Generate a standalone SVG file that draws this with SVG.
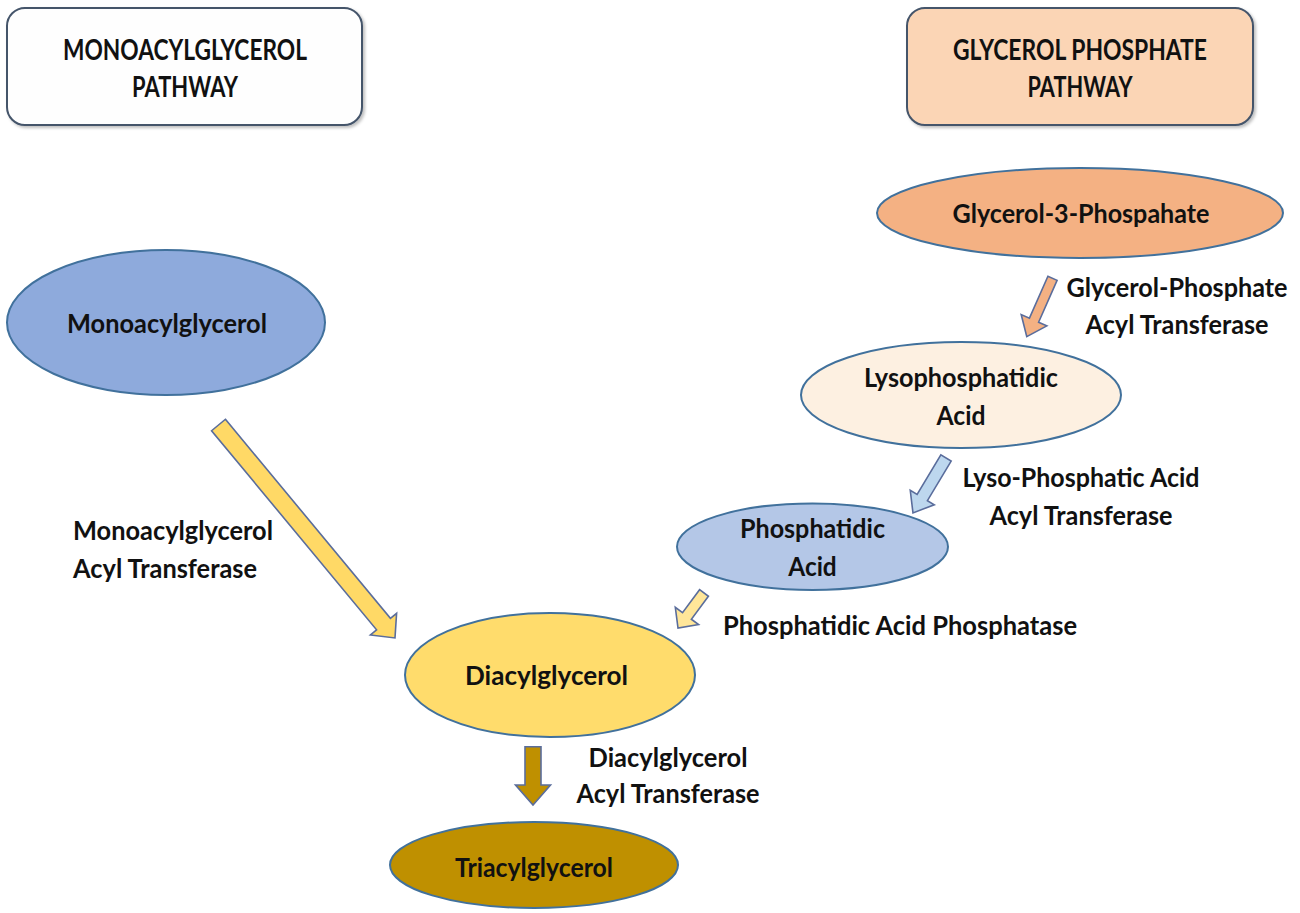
<svg xmlns="http://www.w3.org/2000/svg" width="1300" height="913" viewBox="0 0 1300 913">
  <defs>
    <filter id="sh" x="-5%" y="-5%" width="115%" height="120%">
      <feDropShadow dx="2" dy="2" stdDeviation="1.5" flood-color="#000" flood-opacity="0.25"/>
    </filter>
    <style>
      .box { stroke: #44546a; stroke-width: 2; }
      .node { stroke: #41719c; stroke-width: 2; }
      .arr { stroke: #5a6d9c; stroke-width: 1.6; stroke-linejoin: miter; }
      text { font-family: Lato, "Open Sans", "Liberation Sans", sans-serif; font-weight: bold; fill: #111; }
      .hd { font-size: 28px; text-anchor: middle; }
      .nt { font-size: 26px; text-anchor: middle; }
      .lb { font-size: 26px; text-anchor: middle; }
      .lbl { font-size: 26px; text-anchor: start; }
    </style>
  </defs>
  <rect width="1300" height="913" fill="#ffffff"/>

  <g id="header-mono">
    <rect class="box" x="7" y="8" width="355" height="117" rx="18" fill="#fefefe" filter="url(#sh)"/>
    <text class="hd" x="185" y="60" textLength="244" lengthAdjust="spacingAndGlyphs">MONOACYLGLYCEROL</text>
    <text class="hd" x="185" y="97" textLength="106" lengthAdjust="spacingAndGlyphs">PATHWAY</text>
  </g>

  <g id="header-gp">
    <rect class="box" x="907" y="8" width="346" height="117" rx="18" fill="#fbd5b5" filter="url(#sh)"/>
    <text class="hd" x="1080" y="60" textLength="254" lengthAdjust="spacingAndGlyphs">GLYCEROL PHOSPHATE</text>
    <text class="hd" x="1080" y="97" textLength="105" lengthAdjust="spacingAndGlyphs">PATHWAY</text>
  </g>

  <g id="connectors">
    <path id="arrow-gpat" class="arr" fill="#f4b183" transform="translate(1052.5,278.3) rotate(113.8)" d="M0,-5 H45.8 V-14 L63.8,0 L45.8,14 V5 H0 Z"/>
    <path id="arrow-lpaat" class="arr" fill="#bdd7ee" transform="translate(946,458) rotate(121)" d="M0,-6 H46.1 V-14 L64.1,0 L46.1,14 V6 H0 Z"/>
    <path id="arrow-pap" class="arr" fill="#ffe699" transform="translate(704,593) rotate(126.6)" d="M0,-5.5 H28.6 V-14.5 L43.6,0 L28.6,14.5 V5.5 H0 Z"/>
    <path id="arrow-dgat" class="arr" fill="#bf9000" transform="translate(533,746.7) rotate(90)" d="M0,-8 H38.3 V-17.5 L58.3,0 L38.3,17.5 V8 H0 Z"/>
    <path id="arrow-mgat" class="arr" fill="#ffd966" transform="translate(218.5,425) rotate(50.35)" d="M0,-9 H258.6 V-17 L276.6,0 L258.6,17 V9 H0 Z"/>
  </g>

  <g id="connector-labels">
    <text class="lb" x="1177" y="297" textLength="221" lengthAdjust="spacingAndGlyphs">Glycerol-Phosphate</text>
    <text class="lb" x="1177" y="334" textLength="183" lengthAdjust="spacingAndGlyphs">Acyl Transferase</text>
    <text class="lb" x="1081" y="487" textLength="237" lengthAdjust="spacingAndGlyphs">Lyso-Phosphatic Acid</text>
    <text class="lb" x="1081" y="525" textLength="183" lengthAdjust="spacingAndGlyphs">Acyl Transferase</text>
    <text class="lb" x="900" y="635" textLength="354" lengthAdjust="spacingAndGlyphs">Phosphatidic Acid Phosphatase</text>
    <text class="lb" x="668" y="767" textLength="159" lengthAdjust="spacingAndGlyphs">Diacylglycerol</text>
    <text class="lb" x="668" y="803" textLength="183" lengthAdjust="spacingAndGlyphs">Acyl Transferase</text>
    <text class="lbl" x="73" y="540" textLength="200" lengthAdjust="spacingAndGlyphs">Monoacylglycerol</text>
    <text class="lbl" x="73" y="578" textLength="184" lengthAdjust="spacingAndGlyphs">Acyl Transferase</text>
  </g>

  <g id="node-g3p">
    <ellipse class="node" cx="1080" cy="213" rx="203" ry="45" fill="#f4b183"/>
    <text class="nt" x="1081" y="223" textLength="257" lengthAdjust="spacingAndGlyphs">Glycerol-3-Phospahate</text>
  </g>

  <g id="node-lpa">
    <ellipse class="node" cx="961" cy="395" rx="160" ry="53" fill="#fdf0e1"/>
    <text class="nt" x="961" y="387" textLength="194" lengthAdjust="spacingAndGlyphs">Lysophosphatidic</text>
    <text class="nt" x="961" y="425" textLength="49" lengthAdjust="spacingAndGlyphs">Acid</text>
  </g>

  <g id="node-pa">
    <ellipse class="node" cx="812.5" cy="546.7" rx="135.5" ry="43.3" fill="#b4c7e7"/>
    <text class="nt" x="812.5" y="538" textLength="145" lengthAdjust="spacingAndGlyphs">Phosphatidic</text>
    <text class="nt" x="812.5" y="576" textLength="48.5" lengthAdjust="spacingAndGlyphs">Acid</text>
  </g>

  <g id="node-mag">
    <ellipse class="node" cx="166" cy="322.5" rx="159" ry="72.5" fill="#8eaadc"/>
    <text class="nt" x="167" y="333" textLength="200" lengthAdjust="spacingAndGlyphs">Monoacylglycerol</text>
  </g>

  <g id="node-dag">
    <ellipse class="node" cx="550" cy="675" rx="145" ry="62" fill="#ffdc6c"/>
    <text class="nt" x="546.5" y="685" textLength="163" lengthAdjust="spacingAndGlyphs">Diacylglycerol</text>
  </g>

  <g id="node-tag">
    <ellipse class="node" cx="534" cy="865" rx="144" ry="43" fill="#bf9000"/>
    <text class="nt" x="534" y="877" textLength="158" lengthAdjust="spacingAndGlyphs">Triacylglycerol</text>
  </g>
</svg>
